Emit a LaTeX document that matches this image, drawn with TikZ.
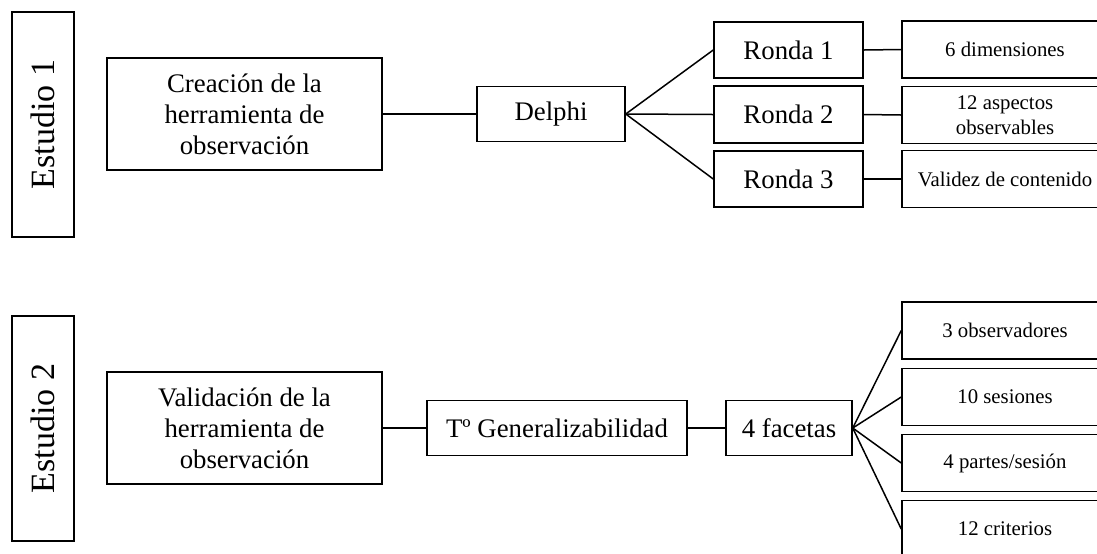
\documentclass[tikz,border=0pt]{standalone}
\usepackage{fontspec}
\setmainfont{Liberation Serif}
\usetikzlibrary{positioning}

\begin{document}
\begin{tikzpicture}[
x=0.5pt, y=-0.5pt,
Box/.style={draw=black, line width=0.75pt, align=center, inner sep=0pt,
  font=\fontsize{13.4}{15.5}\selectfont},
SmallBox/.style={Box, minimum width=103pt, minimum height=28.5pt,
  font=\fontsize{10.4}{12.5}\selectfont},
StudyBox/.style={Box, minimum width=31pt, minimum height=112.5pt},
Link/.style={draw=black, line width=0.75pt}
]
\useasboundingbox (0,0) rectangle (1097,553);
\clip (0,0) rectangle (1097,553);

% Estudio 1
\node[StudyBox] (e1) at (43,124.5) {};
\node[rotate=90, font=\fontsize{17}{20}\selectfont] (e1t) at (e1.center) {Estudio 1};

\node[Box, minimum width=137.5pt, minimum height=56pt] (crea) at (244.5,114)
  {Creación de la\\herramienta de\\observación};
\node[Box, minimum width=74pt, minimum height=27.5pt] (delphi) at (551,114) {Delphi};

\node[Box, minimum width=74.5pt, minimum height=28pt] (r1) at (788.5,50) {Ronda 1};
\node[Box, minimum width=74.5pt, minimum height=28.5pt] (r2) at (788.5,114.5) {Ronda 2};
\node[Box, minimum width=74.5pt, minimum height=28pt] (r3) at (788.5,179) {Ronda 3};

\node[SmallBox] (dim) at (1005,49.5) {6 dimensiones};
\node[SmallBox] (asp) at (1005,115) {12 aspectos\\observables};
\node[SmallBox] (val) at (1005,179) {Validez de contenido};

\draw[Link] (crea.east) -- (delphi.west);
\draw[Link] (delphi.east) -- (r1.west);
\draw[Link] (delphi.east) -- (r2.west);
\draw[Link] (delphi.east) -- (r3.west);
\draw[Link] (r1.east) -- (dim.west);
\draw[Link] (r2.east) -- (asp.west);
\draw[Link] (r3.east) -- (val.west);

% Estudio 2
\node[StudyBox] (e2) at (43,428.5) {};
\node[rotate=90, font=\fontsize{17}{20}\selectfont] (e2t) at (e2.center) {Estudio 2};

\node[Box, minimum width=137.5pt, minimum height=56pt] (vali) at (244.5,428)
  {Validación de la\\herramienta de\\observación};
\node[Box, minimum width=130pt, minimum height=27.5pt] (gen) at (557,428) {Tº Generalizabilidad};
\node[Box, minimum width=63pt, minimum height=27.5pt] (fac) at (789,428) {4 facetas};

\node[SmallBox] (obs) at (1005,330.5) {3 observadores};
\node[SmallBox] (ses) at (1005,397) {10 sesiones};
\node[SmallBox] (par) at (1005,463) {4 partes/sesión};
\node[SmallBox] (cri) at (1005,529) {12 criterios};

\draw[Link] (vali.east) -- (gen.west);
\draw[Link] (gen.east) -- (fac.west);
\draw[Link] (fac.east) -- (obs.west);
\draw[Link] (fac.east) -- (ses.west);
\draw[Link] (fac.east) -- (par.west);
\draw[Link] (fac.east) -- (cri.west);

\end{tikzpicture}
\end{document}
